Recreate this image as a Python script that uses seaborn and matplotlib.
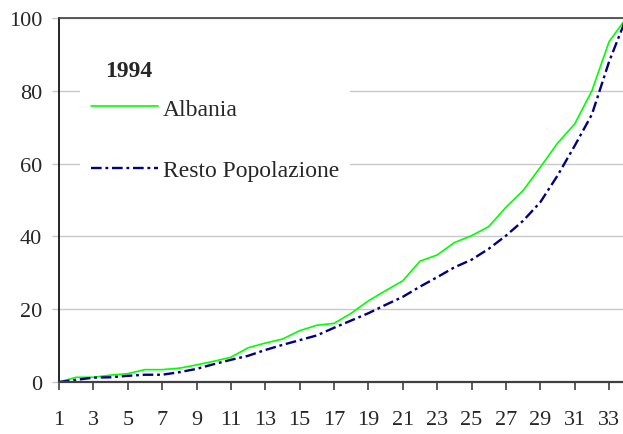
import matplotlib

matplotlib.use("Agg")
import matplotlib.pyplot as plt
import pandas as pd
import seaborn as sns


# cumulative share by position
positions = list(range(1, 35))
albania = [0, 1.3, 1.3, 1.9, 2.3, 3.4, 3.4, 3.8, 4.7, 5.7, 6.8, 9.4, 10.7, 11.8,
           14.1, 15.6, 16.1, 18.9, 22.3, 25.1, 27.8, 33.2, 34.9, 38.3, 40.2, 42.7,
           48.0, 52.6, 59.0, 65.6, 70.9, 80.0, 93.5, 100]
resto = [0, 0.6, 1.2, 1.3, 1.7, 2.0, 2.0, 2.7, 3.6, 4.9, 6.1, 7.2, 8.8, 10.2,
         11.5, 12.8, 14.9, 16.9, 18.9, 21.2, 23.4, 26.2, 28.8, 31.5, 33.6, 36.6,
         40.2, 44.3, 49.4, 56.7, 64.9, 73.5, 88.0, 100]
series_names = ["Albania", "Resto Popolazione"]
legend_title = "1994"
x_ticks = list(range(1, 34, 2))
y_ticks = [0, 20, 40, 60, 80, 100]

df = pd.DataFrame({
    "pos": positions * 2,
    "value": albania + resto,
    "serie": [series_names[0]] * len(positions) + [series_names[1]] * len(positions),
})

sns.set_theme(style="white")
plt.rcParams["font.family"] = ["Liberation Serif", "DejaVu Serif"]

fig = plt.figure(figsize=(6.23, 4.35), dpi=100)
ax = fig.add_axes([0.0947, 0.1195, 0.9053, 0.8368])

styles = {
    "Albania": dict(color="#00ff00", linewidth=1.2, linestyle="-"),
    "Resto Popolazione": dict(color="#000080", linewidth=1.7, linestyle=(0, (4.5, 1.6, 1.2, 1.6))),
}
for name in series_names:
    sns.lineplot(data=df[df["serie"] == name], x="pos", y="value", ax=ax,
                 label=name, **styles[name])

ax.set_xlim(1, 33.81)
ax.set_ylim(0, 100)
ax.set_xticks(x_ticks)
ax.set_yticks(y_ticks)
ax.set_xlabel("")
ax.set_ylabel("")

ax.yaxis.grid(True, color="#c8c8c8", linewidth=1.0)
ax.xaxis.grid(False)
ax.set_axisbelow(True)

ax.spines["right"].set_visible(False)
ax.spines["left"].set_color("black")
ax.spines["left"].set_linewidth(1.2)
ax.spines["top"].set_color("#404040")
ax.spines["top"].set_linewidth(1.2)
ax.spines["bottom"].set_color("#404040")
ax.spines["bottom"].set_linewidth(1.6)

ax.tick_params(axis="x", direction="out", length=6, width=1.2, color="#404040",
               labelsize=16, pad=14, bottom=True)
ax.tick_params(axis="y", direction="out", length=5, width=1.0, color="#c8c8c8",
               labelsize=16, pad=7, left=True)

leg = ax.legend(loc="upper left", bbox_to_anchor=(0.038, 0.809), frameon=True,
                fontsize=17, handlelength=2.84, handletextpad=0.21, labelspacing=1.69,
                borderpad=0.45, borderaxespad=0)
leg.get_frame().set_facecolor("white")
leg.get_frame().set_edgecolor("none")
leg.get_frame().set_alpha(1)

ax.text(0.082, 0.855, legend_title, transform=ax.transAxes, fontsize=17,
        fontweight="bold", ha="left", va="center", zorder=10)

fig.savefig("out.png", dpi=100)
